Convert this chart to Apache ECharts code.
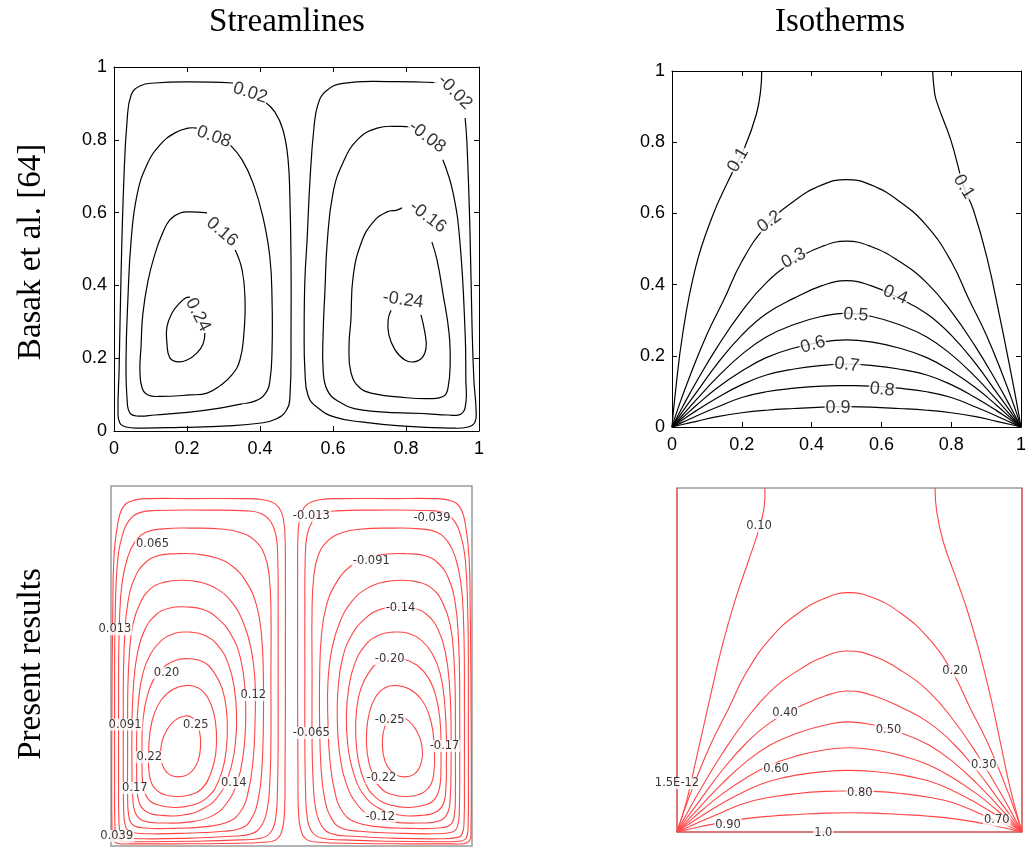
<!DOCTYPE html>
<html>
<head>
<meta charset="utf-8">
<title>Streamlines and isotherms</title>
<script src="https://cdn.jsdelivr.net/npm/echarts@6/dist/echarts.min.js"></script>
<style>
  html, body { margin: 0; padding: 0; background: #fff; }
  #chart { width: 1029px; height: 847px; }
</style>
</head>
<body>
<div id="chart"></div>
<script>
// ---------- axis ticks (upper panels) ----------
const tickValues = [0, 0.2, 0.4, 0.6, 0.8, 1];
const tickLabels = ['0', '0.2', '0.4', '0.6', '0.8', '1'];

// ---------- Basak et al.: stream function contours (open where the level label sits) ----------
const basakPsi_p002 = [[0.414,0.904],[0.441,0.876],[0.463,0.827],[0.477,0.745],[0.482,0.635],[0.485,0.470],[0.485,0.277],[0.482,0.093],[0.471,0.055],[0.444,0.033],[0.403,0.022],[0.312,0.014],[0.181,0.010],[0.071,0.008],[0.033,0.011],[0.016,0.022],[0.011,0.052],[0.014,0.168],[0.019,0.415],[0.027,0.690],[0.036,0.854],[0.047,0.923],[0.071,0.948],[0.112,0.956],[0.208,0.959],[0.326,0.956]];
const basakPsi_p008 = [[0.318,0.786],[0.351,0.745],[0.381,0.681],[0.408,0.588],[0.427,0.478],[0.433,0.360],[0.433,0.223],[0.427,0.137],[0.414,0.102],[0.386,0.082],[0.348,0.074],[0.290,0.063],[0.208,0.052],[0.112,0.044],[0.066,0.041],[0.044,0.049],[0.036,0.085],[0.033,0.195],[0.038,0.360],[0.047,0.525],[0.063,0.648],[0.090,0.731],[0.126,0.786],[0.167,0.819],[0.203,0.832],[0.227,0.832]];
const basakPsi_p016 = [[0.332,0.497],[0.351,0.442],[0.359,0.360],[0.356,0.269],[0.345,0.195],[0.323,0.154],[0.290,0.124],[0.255,0.104],[0.208,0.099],[0.126,0.095],[0.093,0.099],[0.077,0.118],[0.071,0.168],[0.074,0.231],[0.079,0.321],[0.093,0.412],[0.112,0.486],[0.132,0.541],[0.153,0.580],[0.181,0.599],[0.208,0.602],[0.255,0.599]];
const basakPsi_p024 = [[0.249,0.269],[0.244,0.239],[0.227,0.214],[0.200,0.195],[0.175,0.190],[0.153,0.201],[0.145,0.242],[0.145,0.286],[0.159,0.324],[0.175,0.346],[0.195,0.365],[0.208,0.368]];
const basakPsi_m002 = [[0.962,0.860],[0.967,0.791],[0.975,0.560],[0.981,0.286],[0.986,0.140],[0.992,0.058],[0.989,0.025],[0.970,0.011],[0.921,0.008],[0.784,0.014],[0.677,0.025],[0.605,0.038],[0.559,0.063],[0.532,0.096],[0.523,0.168],[0.521,0.277],[0.523,0.415],[0.529,0.525],[0.537,0.690],[0.548,0.835],[0.559,0.898],[0.581,0.934],[0.627,0.955],[0.756,0.960],[0.885,0.957]];
const basakPsi_m008 = [[0.901,0.745],[0.929,0.654],[0.948,0.516],[0.962,0.269],[0.964,0.140],[0.964,0.077],[0.951,0.047],[0.915,0.044],[0.860,0.047],[0.677,0.058],[0.614,0.082],[0.584,0.113],[0.573,0.168],[0.573,0.269],[0.578,0.387],[0.584,0.516],[0.600,0.654],[0.627,0.736],[0.666,0.799],[0.721,0.832],[0.784,0.837],[0.811,0.835]];
const basakPsi_m016 = [[0.871,0.519],[0.885,0.470],[0.901,0.379],[0.918,0.269],[0.921,0.181],[0.915,0.118],[0.904,0.096],[0.866,0.089],[0.784,0.093],[0.715,0.102],[0.674,0.118],[0.649,0.162],[0.644,0.236],[0.649,0.305],[0.655,0.423],[0.677,0.516],[0.710,0.574],[0.748,0.602],[0.775,0.607],[0.789,0.613]];
const basakPsi_m024 = [[0.841,0.319],[0.852,0.269],[0.855,0.228],[0.844,0.201],[0.822,0.190],[0.797,0.195],[0.770,0.223],[0.753,0.264],[0.751,0.305],[0.759,0.332]];
// level labels: text, x, y
const basakPsiLabels = [['0.02',0.373,0.929],['0.08',0.274,0.808],['0.16',0.296,0.547],['0.24',0.230,0.319],['-0.02',0.934,0.931],['-0.08',0.858,0.808],['-0.16',0.860,0.588],['-0.24',0.792,0.360]];

// ---------- Basak et al.: isotherms ----------
const basakT_010a = [[0,0],[0.0075,0.077],[0.031,0.264],[0.068,0.45],[0.115,0.59],[0.162,0.693],[0.209,0.787],[0.242,0.88],[0.254,0.946],[0.257,1]];
const basakT_010b = [[1,0],[0.977,0.123],[0.939,0.31],[0.902,0.478],[0.864,0.609],[0.836,0.675],[0.799,0.806],[0.757,0.918],[0.75,0.96],[0.747,1]];
const basakT_020 = [[0,0],[0.02,0.06],[0.05,0.14],[0.1,0.26],[0.15,0.36],[0.2,0.465],[0.27,0.565],[0.35,0.635],[0.43,0.68],[0.5,0.695],[0.57,0.68],[0.65,0.635],[0.73,0.565],[0.8,0.465],[0.85,0.36],[0.9,0.26],[0.95,0.14],[0.98,0.06],[1,0]];
const basakT_030 = [[0,0],[0.03,0.056],[0.07,0.127],[0.13,0.225],[0.2,0.325],[0.27,0.405],[0.35,0.466],[0.43,0.507],[0.5,0.522],[0.57,0.507],[0.65,0.466],[0.73,0.405],[0.8,0.325],[0.87,0.225],[0.93,0.127],[0.97,0.056],[1,0]];
const basakT_040 = [[0,0],[0.03,0.043],[0.07,0.097],[0.13,0.178],[0.2,0.258],[0.27,0.318],[0.35,0.362],[0.43,0.397],[0.5,0.411],[0.57,0.397],[0.65,0.362],[0.73,0.318],[0.8,0.258],[0.87,0.178],[0.93,0.097],[0.97,0.043],[1,0]];
const basakT_050 = [[0,0],[0.03,0.033],[0.07,0.077],[0.13,0.14],[0.2,0.204],[0.27,0.253],[0.35,0.288],[0.43,0.311],[0.5,0.32],[0.57,0.311],[0.65,0.288],[0.73,0.253],[0.8,0.204],[0.87,0.14],[0.93,0.077],[0.97,0.033],[1,0]];
const basakT_060 = [[0,0],[0.03,0.026],[0.07,0.061],[0.13,0.11],[0.2,0.157],[0.27,0.195],[0.35,0.222],[0.43,0.239],[0.5,0.245],[0.57,0.239],[0.65,0.222],[0.73,0.195],[0.8,0.157],[0.87,0.11],[0.93,0.061],[0.97,0.026],[1,0]];
const basakT_070 = [[0,0],[0.03,0.02],[0.07,0.046],[0.13,0.082],[0.2,0.119],[0.27,0.146],[0.35,0.163],[0.43,0.173],[0.5,0.177],[0.57,0.173],[0.65,0.163],[0.73,0.146],[0.8,0.119],[0.87,0.082],[0.93,0.046],[0.97,0.02],[1,0]];
const basakT_080 = [[0,0],[0.03,0.013],[0.07,0.031],[0.13,0.056],[0.2,0.083],[0.27,0.099],[0.35,0.109],[0.43,0.115],[0.5,0.116],[0.57,0.115],[0.65,0.109],[0.73,0.099],[0.8,0.083],[0.87,0.056],[0.93,0.031],[0.97,0.013],[1,0]];
const basakT_090 = [[0,0],[0.03,0.007],[0.07,0.016],[0.13,0.029],[0.2,0.04],[0.27,0.047],[0.35,0.052],[0.43,0.056],[0.5,0.057],[0.57,0.056],[0.65,0.052],[0.73,0.047],[0.8,0.04],[0.87,0.029],[0.93,0.016],[0.97,0.007],[1,0]];
const basakTLabels = [['0.1',0.19,0.75],['0.1',0.836,0.675],['0.2',0.279,0.577],['0.3',0.349,0.474],['0.4',0.64,0.371],['0.5',0.527,0.315],['0.6',0.404,0.231],['0.7',0.501,0.175],['0.8',0.602,0.105],['0.9',0.476,0.053]];

// ---------- present results: stream function contours ----------
const presPsi_p013 = [[0.003,0.474],[0.005,0.659],[0.008,0.798],[0.018,0.891],[0.034,0.942],[0.062,0.960],[0.108,0.965],[0.219,0.965],[0.357,0.965],[0.422,0.962],[0.454,0.951],[0.472,0.928],[0.481,0.881],[0.483,0.752],[0.483,0.567],[0.483,0.381],[0.482,0.196],[0.481,0.104],[0.475,0.048],[0.460,0.020],[0.431,0.011],[0.311,0.007],[0.173,0.006],[0.053,0.006],[0.020,0.007],[0.006,0.016],[0.003,0.039],[0.002,0.196],[0.003,0.474]];
const presPsi_p039 = [[0.010,0.474],[0.012,0.659],[0.018,0.789],[0.030,0.858],[0.051,0.905],[0.080,0.926],[0.126,0.932],[0.265,0.933],[0.375,0.931],[0.417,0.923],[0.443,0.900],[0.457,0.863],[0.462,0.798],[0.463,0.659],[0.463,0.474],[0.463,0.289],[0.461,0.150],[0.456,0.076],[0.443,0.039],[0.417,0.022],[0.357,0.017],[0.219,0.013],[0.080,0.012],[0.030,0.014],[0.016,0.022],[0.011,0.048],[0.010,0.196],[0.010,0.474]];
const presPsi_p065 = [[0.021,0.474],[0.024,0.641],[0.031,0.733],[0.045,0.798],[0.066,0.844],[0.099,0.872],[0.145,0.881],[0.219,0.883],[0.311,0.880],[0.366,0.868],[0.403,0.844],[0.426,0.807],[0.438,0.752],[0.443,0.659],[0.443,0.474],[0.443,0.289],[0.440,0.178],[0.433,0.104],[0.417,0.057],[0.389,0.034],[0.329,0.027],[0.219,0.022],[0.089,0.020],[0.039,0.024],[0.027,0.034],[0.022,0.067],[0.021,0.196],[0.021,0.474]];
const presPsi_p091 = [[0.034,0.428],[0.038,0.585],[0.047,0.678],[0.065,0.743],[0.092,0.784],[0.129,0.806],[0.182,0.812],[0.237,0.811],[0.292,0.800],[0.339,0.775],[0.375,0.733],[0.403,0.669],[0.417,0.585],[0.422,0.474],[0.422,0.335],[0.418,0.215],[0.408,0.131],[0.389,0.076],[0.362,0.050],[0.311,0.041],[0.219,0.036],[0.108,0.034],[0.054,0.039],[0.040,0.055],[0.035,0.104],[0.034,0.243],[0.034,0.428]];
const presPsi_p117 = [[0.046,0.381],[0.050,0.520],[0.060,0.613],[0.080,0.673],[0.110,0.715],[0.149,0.733],[0.196,0.738],[0.246,0.733],[0.292,0.715],[0.334,0.678],[0.366,0.622],[0.388,0.548],[0.399,0.456],[0.399,0.344],[0.394,0.243],[0.380,0.150],[0.357,0.093],[0.320,0.065],[0.256,0.053],[0.173,0.049],[0.094,0.050],[0.060,0.059],[0.049,0.085],[0.046,0.150],[0.046,0.243],[0.046,0.381]];
const presPsi_p143 = [[0.058,0.335],[0.063,0.456],[0.074,0.539],[0.093,0.599],[0.123,0.641],[0.163,0.661],[0.209,0.664],[0.256,0.657],[0.297,0.631],[0.334,0.585],[0.359,0.520],[0.371,0.437],[0.373,0.344],[0.366,0.252],[0.350,0.178],[0.320,0.118],[0.279,0.083],[0.219,0.067],[0.145,0.064],[0.089,0.070],[0.067,0.093],[0.060,0.141],[0.058,0.224],[0.058,0.335]];
const presPsi_p169 = [[0.071,0.298],[0.076,0.400],[0.088,0.479],[0.110,0.534],[0.140,0.571],[0.177,0.591],[0.219,0.594],[0.260,0.585],[0.297,0.556],[0.325,0.506],[0.341,0.442],[0.348,0.363],[0.344,0.280],[0.329,0.206],[0.302,0.145],[0.260,0.106],[0.205,0.087],[0.140,0.085],[0.097,0.096],[0.078,0.120],[0.072,0.169],[0.071,0.224],[0.071,0.298]];
const presPsi_p195 = [[0.086,0.270],[0.089,0.354],[0.101,0.419],[0.122,0.469],[0.152,0.502],[0.186,0.518],[0.219,0.520],[0.256,0.511],[0.285,0.483],[0.308,0.437],[0.320,0.377],[0.322,0.307],[0.315,0.238],[0.297,0.178],[0.267,0.135],[0.223,0.113],[0.173,0.107],[0.126,0.115],[0.101,0.133],[0.089,0.167],[0.086,0.215],[0.086,0.270]];
const presPsi_p221 = [[0.104,0.252],[0.108,0.317],[0.120,0.368],[0.140,0.407],[0.171,0.435],[0.209,0.446],[0.242,0.439],[0.267,0.414],[0.284,0.372],[0.292,0.317],[0.290,0.256],[0.276,0.201],[0.251,0.159],[0.214,0.141],[0.173,0.138],[0.136,0.148],[0.113,0.173],[0.105,0.210],[0.104,0.252]];
const presPsi_p247 = [[0.137,0.252],[0.141,0.289],[0.154,0.321],[0.177,0.349],[0.205,0.361],[0.226,0.356],[0.241,0.333],[0.248,0.298],[0.246,0.256],[0.235,0.222],[0.214,0.199],[0.186,0.192],[0.161,0.199],[0.145,0.219],[0.137,0.252]];
const presPsi_m013 = [[0.997,0.474],[0.995,0.659],[0.992,0.798],[0.982,0.891],[0.966,0.942],[0.938,0.960],[0.892,0.965],[0.781,0.965],[0.643,0.965],[0.578,0.962],[0.546,0.951],[0.528,0.928],[0.519,0.881],[0.517,0.752],[0.517,0.567],[0.517,0.381],[0.518,0.196],[0.519,0.104],[0.525,0.048],[0.540,0.020],[0.569,0.011],[0.689,0.007],[0.827,0.006],[0.947,0.006],[0.980,0.007],[0.994,0.016],[0.997,0.039],[0.998,0.196],[0.997,0.474]];
const presPsi_m039 = [[0.990,0.474],[0.988,0.659],[0.982,0.789],[0.970,0.858],[0.949,0.905],[0.920,0.926],[0.874,0.932],[0.735,0.933],[0.625,0.931],[0.583,0.923],[0.557,0.900],[0.543,0.863],[0.538,0.798],[0.537,0.659],[0.537,0.474],[0.537,0.289],[0.539,0.150],[0.544,0.076],[0.557,0.039],[0.583,0.022],[0.643,0.017],[0.781,0.013],[0.920,0.012],[0.970,0.014],[0.984,0.022],[0.989,0.048],[0.990,0.196],[0.990,0.474]];
const presPsi_m065 = [[0.979,0.474],[0.976,0.641],[0.969,0.733],[0.955,0.798],[0.934,0.844],[0.901,0.872],[0.855,0.881],[0.781,0.883],[0.689,0.880],[0.634,0.868],[0.597,0.844],[0.574,0.807],[0.562,0.752],[0.557,0.659],[0.557,0.474],[0.557,0.289],[0.560,0.178],[0.567,0.104],[0.583,0.057],[0.611,0.034],[0.671,0.027],[0.781,0.022],[0.911,0.020],[0.961,0.024],[0.973,0.034],[0.978,0.067],[0.979,0.196],[0.979,0.474]];
const presPsi_m091 = [[0.966,0.428],[0.962,0.585],[0.953,0.678],[0.935,0.743],[0.908,0.784],[0.871,0.806],[0.818,0.812],[0.763,0.811],[0.708,0.800],[0.661,0.775],[0.625,0.733],[0.597,0.669],[0.583,0.585],[0.578,0.474],[0.578,0.335],[0.582,0.215],[0.592,0.131],[0.611,0.076],[0.638,0.050],[0.689,0.041],[0.781,0.036],[0.892,0.034],[0.946,0.039],[0.960,0.055],[0.965,0.104],[0.966,0.243],[0.966,0.428]];
const presPsi_m117 = [[0.954,0.381],[0.950,0.520],[0.940,0.613],[0.920,0.673],[0.890,0.715],[0.851,0.733],[0.804,0.738],[0.754,0.733],[0.708,0.715],[0.666,0.678],[0.634,0.622],[0.612,0.548],[0.601,0.456],[0.601,0.344],[0.606,0.243],[0.620,0.150],[0.643,0.093],[0.680,0.065],[0.744,0.053],[0.827,0.049],[0.906,0.050],[0.940,0.059],[0.951,0.085],[0.954,0.150],[0.954,0.243],[0.954,0.381]];
const presPsi_m143 = [[0.942,0.335],[0.937,0.456],[0.926,0.539],[0.907,0.599],[0.877,0.641],[0.837,0.661],[0.791,0.664],[0.744,0.657],[0.703,0.631],[0.666,0.585],[0.641,0.520],[0.629,0.437],[0.627,0.344],[0.634,0.252],[0.650,0.178],[0.680,0.118],[0.721,0.083],[0.781,0.067],[0.855,0.064],[0.911,0.070],[0.933,0.093],[0.940,0.141],[0.942,0.224],[0.942,0.335]];
const presPsi_m169 = [[0.929,0.298],[0.924,0.400],[0.912,0.479],[0.890,0.534],[0.860,0.571],[0.823,0.591],[0.781,0.594],[0.740,0.585],[0.703,0.556],[0.675,0.506],[0.659,0.442],[0.652,0.363],[0.656,0.280],[0.671,0.206],[0.698,0.145],[0.740,0.106],[0.795,0.087],[0.860,0.085],[0.903,0.096],[0.922,0.120],[0.928,0.169],[0.929,0.224],[0.929,0.298]];
const presPsi_m195 = [[0.914,0.270],[0.911,0.354],[0.899,0.419],[0.878,0.469],[0.848,0.502],[0.814,0.518],[0.781,0.520],[0.744,0.511],[0.715,0.483],[0.692,0.437],[0.680,0.377],[0.678,0.307],[0.685,0.238],[0.703,0.178],[0.733,0.135],[0.777,0.113],[0.827,0.107],[0.874,0.115],[0.899,0.133],[0.911,0.167],[0.914,0.215],[0.914,0.270]];
const presPsi_m221 = [[0.896,0.252],[0.892,0.317],[0.880,0.368],[0.860,0.407],[0.829,0.435],[0.791,0.446],[0.758,0.439],[0.733,0.414],[0.716,0.372],[0.708,0.317],[0.710,0.256],[0.724,0.201],[0.749,0.159],[0.786,0.141],[0.827,0.138],[0.864,0.148],[0.887,0.173],[0.895,0.210],[0.896,0.252]];
const presPsi_m247 = [[0.863,0.252],[0.859,0.289],[0.846,0.321],[0.823,0.349],[0.795,0.361],[0.774,0.356],[0.759,0.333],[0.752,0.298],[0.754,0.256],[0.765,0.222],[0.786,0.199],[0.814,0.192],[0.839,0.199],[0.855,0.219],[0.863,0.252]];
const presPsiLabels = [['0.013',0.011,0.602],['0.039',0.016,0.028],['0.065',0.115,0.838],['0.091',0.039,0.337],['0.12',0.394,0.419],['0.14',0.340,0.176],['0.17',0.066,0.161],['0.20',0.154,0.481],['0.22',0.106,0.247],['0.25',0.235,0.337],
  ['-0.013',0.555,0.917],['-0.039',0.889,0.912],['-0.065',0.555,0.314],['-0.091',0.721,0.792],['-0.12',0.746,0.081],['-0.14',0.802,0.661],['-0.17',0.924,0.278],['-0.20',0.772,0.519],['-0.22',0.749,0.189],['-0.25',0.772,0.351]];

// ---------- present results: isotherms ----------
const presT_wallL = [[0,0],[0,1]];
const presT_wallR = [[1,0],[1,1]];
const presT_bottom = [[0,0],[1,0]];
const presT_010a = [[0,0],[0.027,0.087],[0.056,0.213],[0.093,0.378],[0.129,0.533],[0.167,0.669],[0.206,0.785],[0.235,0.872],[0.252,0.94],[0.255,1]];
const presT_010b = [[1,0],[0.966,0.126],[0.937,0.262],[0.908,0.397],[0.874,0.533],[0.84,0.649],[0.806,0.746],[0.772,0.843],[0.753,0.93],[0.748,1]];
const presT_020 = [[0,0],[0.02,0.06],[0.05,0.14],[0.1,0.26],[0.15,0.36],[0.2,0.462],[0.27,0.562],[0.35,0.635],[0.43,0.68],[0.497,0.696],[0.57,0.68],[0.65,0.635],[0.73,0.562],[0.8,0.462],[0.85,0.36],[0.9,0.26],[0.95,0.14],[0.98,0.06],[1,0]];
const presT_030 = [[0,0],[0.03,0.056],[0.07,0.127],[0.13,0.226],[0.2,0.327],[0.27,0.408],[0.35,0.469],[0.43,0.511],[0.497,0.526],[0.57,0.511],[0.65,0.469],[0.73,0.408],[0.8,0.327],[0.87,0.226],[0.93,0.127],[0.97,0.056],[1,0]];
const presT_040 = [[0,0],[0.03,0.043],[0.07,0.097],[0.13,0.178],[0.2,0.258],[0.27,0.318],[0.35,0.362],[0.43,0.396],[0.497,0.41],[0.57,0.396],[0.65,0.362],[0.73,0.318],[0.8,0.258],[0.87,0.178],[0.93,0.097],[0.97,0.043],[1,0]];
const presT_050 = [[0,0],[0.03,0.033],[0.07,0.077],[0.13,0.14],[0.2,0.204],[0.27,0.253],[0.35,0.288],[0.43,0.311],[0.497,0.32],[0.57,0.311],[0.65,0.288],[0.73,0.253],[0.8,0.204],[0.87,0.14],[0.93,0.077],[0.97,0.033],[1,0]];
const presT_060 = [[0,0],[0.03,0.026],[0.07,0.061],[0.13,0.11],[0.2,0.157],[0.27,0.195],[0.35,0.222],[0.43,0.239],[0.497,0.245],[0.57,0.239],[0.65,0.222],[0.73,0.195],[0.8,0.157],[0.87,0.11],[0.93,0.061],[0.97,0.026],[1,0]];
const presT_070 = [[0,0],[0.03,0.02],[0.07,0.046],[0.13,0.083],[0.2,0.12],[0.27,0.148],[0.35,0.166],[0.43,0.176],[0.497,0.179],[0.57,0.176],[0.65,0.166],[0.73,0.148],[0.8,0.12],[0.87,0.083],[0.93,0.046],[0.97,0.02],[1,0]];
const presT_080 = [[0,0],[0.03,0.013],[0.07,0.031],[0.13,0.057],[0.2,0.085],[0.27,0.101],[0.35,0.112],[0.43,0.118],[0.497,0.119],[0.57,0.118],[0.65,0.112],[0.73,0.101],[0.8,0.085],[0.87,0.057],[0.93,0.031],[0.97,0.013],[1,0]];
const presT_090 = [[0,0],[0.03,0.007],[0.07,0.016],[0.13,0.028],[0.2,0.039],[0.27,0.046],[0.35,0.051],[0.43,0.055],[0.497,0.056],[0.57,0.055],[0.65,0.051],[0.73,0.046],[0.8,0.039],[0.87,0.028],[0.93,0.016],[0.97,0.007],[1,0]];
const presTLabels = [['0.10',0.238,0.889],['0.20',0.806,0.467],['0.30',0.889,0.196],['0.40',0.313,0.346],['0.50',0.613,0.297],['0.60',0.287,0.184],['0.70',0.927,0.034],['0.80',0.53,0.114],['0.90',0.148,0.021],['1.0',0.424,-0.002],['1.5E-12',0,0.142]];

// ---------- styling ----------
const labelTilt = {
  basakPsi: [-18, -20, -41, -63, -45, -37, -37, -8],
  basakT: [60, -58, 36, 28, -22, -4, 16, -8, -6, 0]
};

const chart = echarts.init(document.getElementById('chart'), null, { renderer: 'canvas' });

// panels: 0 upper-left, 1 upper-right, 2 lower-left, 3 lower-right
const grids = [
  { left: 114, top: 67, width: 365, height: 364 },
  { left: 672, top: 71, width: 356, height: 356 },
  { left: 111, top: 486, width: 361, height: 360, show: true, borderColor: '#9a9a9a', borderWidth: 1.5 },
  { left: 677, top: 488, width: 345, height: 344, show: true, borderColor: '#9a9a9a', borderWidth: 1.5 }
];

const labelFont = { fontFamily: 'Liberation Sans', fontSize: 18, color: '#000' };

function framedAxis(dim, gridIndex, position, withLabels) {
  return {
    type: 'value', gridIndex, position, min: 0, max: 1, interval: 0.2,
    axisLine: { show: true, onZero: false, lineStyle: { color: '#000', width: 1 } },
    axisTick: { show: true, inside: true, length: 5, lineStyle: { color: '#000', width: 1 } },
    axisLabel: withLabels ? Object.assign({
      show: true, margin: dim === 'x' ? 9 : 7, hideOverlap: false,
      formatter: v => tickLabels[tickValues.findIndex(t => Math.abs(t - v) < 1e-9)]
    }, labelFont) : { show: false },
    splitLine: { show: false }
  };
}
function hiddenAxis(gridIndex) {
  return { type: 'value', gridIndex, min: 0, max: 1, show: false, splitLine: { show: false } };
}

const xAxis = [
  framedAxis('x', 0, 'bottom', true), framedAxis('x', 0, 'top', false),
  framedAxis('x', 1, 'bottom', true), framedAxis('x', 1, 'top', false),
  hiddenAxis(2), hiddenAxis(3)
];
const yAxis = [
  framedAxis('y', 0, 'left', true), framedAxis('y', 0, 'right', false),
  framedAxis('y', 1, 'left', true), framedAxis('y', 1, 'right', false),
  hiddenAxis(2), hiddenAxis(3)
];
const panelAxes = [[0, 0], [2, 2], [4, 4], [5, 5]];

// one contour = one custom series; its points go through the axes via api.coord
// and are joined with a smooth bezier path
function curve(data, panel, color, width) {
  return {
    type: 'custom', coordinateSystem: 'cartesian2d',
    xAxisIndex: panelAxes[panel][0], yAxisIndex: panelAxes[panel][1],
    data, silent: true, animation: false, z: 2,
    renderItem: (params, api) => {
      if (params.dataIndex !== 0) return null;
      return {
        type: 'polyline',
        shape: { points: data.map(p => api.coord(p)), smooth: 0.45 },
        style: { stroke: color, lineWidth: width, fill: 'none' }
      };
    }
  };
}
function levelLabels(list, panel, tilt, style) {
  return {
    type: 'scatter', xAxisIndex: panelAxes[panel][0], yAxisIndex: panelAxes[panel][1],
    symbolSize: 0, clip: false, silent: true, animation: false, z: 10,
    data: list.map((d, i) => ({ name: d[0], value: [d[1], d[2]], label: { rotate: tilt ? tilt[i] : 0 } })),
    label: Object.assign({ show: true, position: 'inside', formatter: '{b}' }, style)
  };
}

const BLACK = '#000';
const RED = '#ff4545';
const series = [];
[basakPsi_p002, basakPsi_p008, basakPsi_p016, basakPsi_p024,
 basakPsi_m002, basakPsi_m008, basakPsi_m016, basakPsi_m024].forEach(d => series.push(curve(d, 0, BLACK, 1.2)));
[basakT_010a, basakT_010b, basakT_020, basakT_030, basakT_040, basakT_050,
 basakT_060, basakT_070, basakT_080, basakT_090].forEach(d => series.push(curve(d, 1, BLACK, 1.2)));
[presPsi_p013, presPsi_p039, presPsi_p065, presPsi_p091, presPsi_p117, presPsi_p143, presPsi_p169, presPsi_p195, presPsi_p221, presPsi_p247,
 presPsi_m013, presPsi_m039, presPsi_m065, presPsi_m091, presPsi_m117, presPsi_m143, presPsi_m169, presPsi_m195, presPsi_m221, presPsi_m247]
  .forEach(d => series.push(curve(d, 2, RED, 1.1)));
[presT_wallL, presT_wallR, presT_bottom, presT_010a, presT_010b, presT_020, presT_030, presT_040,
 presT_050, presT_060, presT_070, presT_080, presT_090].forEach(d => series.push(curve(d, 3, RED, 1.1)));

series.push(levelLabels(basakPsiLabels, 0, labelTilt.basakPsi, Object.assign({ backgroundColor: '#fff', padding: [0, 1] }, labelFont)));
series.push(levelLabels(basakTLabels, 1, labelTilt.basakT, Object.assign({ backgroundColor: '#fff', padding: [0, 1] }, labelFont)));
const comsolFont = { fontFamily: 'DejaVu Sans', fontSize: 11.5, color: '#000', backgroundColor: '#fff', padding: [0, 1] };
series.push(levelLabels(presPsiLabels, 2, null, comsolFont));
series.push(levelLabels(presTLabels, 3, null, comsolFont));

const serif = '33px "Liberation Serif", "Times New Roman", serif';
function heading(text, x, y, rotation) {
  return {
    type: 'text', x, y, rotation: rotation || 0, silent: true, z: 20,
    style: { text, font: serif, fill: '#000', align: 'center', verticalAlign: 'middle',
             textAlign: 'center', textVerticalAlign: 'middle' }
  };
}

chart.setOption({
  backgroundColor: '#fff',
  animation: false,
  grid: grids,
  xAxis, yAxis,
  series,
  graphic: [
    heading('Streamlines', 287, 22),
    heading('Isotherms', 840, 22),
    heading('Basak et al. [64]', 31, 252, Math.PI / 2),
    heading('Present results', 31, 664, Math.PI / 2)
  ]
});
</script>
</body>
</html>
